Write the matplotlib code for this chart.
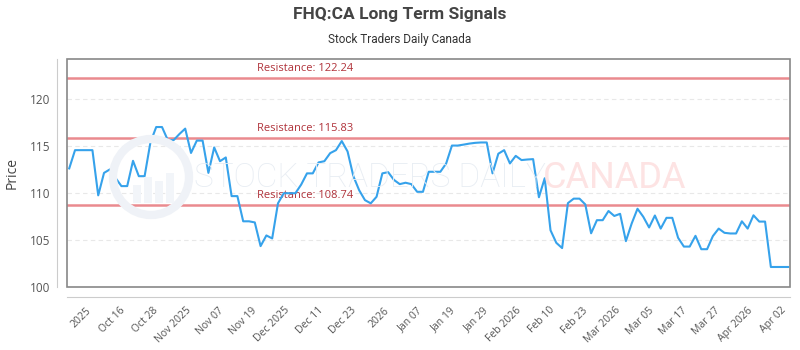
import numpy as np
import matplotlib
matplotlib.use("Agg")
import matplotlib.pyplot as plt
from matplotlib.patches import Ellipse, Rectangle

# closing prices, one per trading day
prices = [
    112.63, 114.58, 114.58, 114.58, 114.58, 109.75, 112.15, 112.52, 111.60, 110.74,
    110.74, 113.44, 111.80, 111.80, 115.40, 117.05, 117.05, 115.65, 115.65, 116.30,
    116.88, 114.28, 115.60, 115.60, 112.15, 114.87, 113.40, 113.80, 109.67, 109.67,
    106.98, 106.98, 106.86, 104.33, 105.47, 105.15, 108.90, 109.98, 109.98, 109.98,
    110.90, 112.10, 112.10, 113.27, 113.40, 114.26, 114.58, 115.55, 114.44, 111.80,
    110.30, 109.24, 108.90, 109.60, 112.10, 112.23, 111.40, 110.95, 111.10, 110.95,
    110.13, 110.13, 112.27, 112.27, 112.27, 113.15, 115.07, 115.07, 115.17, 115.28,
    115.36, 115.40, 115.40, 112.10, 114.20, 114.58, 113.16, 113.97, 113.52, 113.58,
    113.62, 109.55, 111.58, 106.02, 104.68, 104.12, 108.92, 109.40, 109.40, 108.78,
    105.70, 107.10, 107.10, 108.08, 107.55, 107.78, 104.86, 106.75, 108.32, 107.46,
    106.32, 107.60, 106.20, 107.35, 107.35, 105.22, 104.28, 104.28, 105.43, 104.00,
    104.00, 105.40, 106.20, 105.75, 105.68, 105.68, 106.98, 106.20, 107.62, 106.95,
    106.95, 102.10, 102.10, 102.10, 102.10,
]

resistance = [122.24, 115.83, 108.74]

tick_labels = ["2025", "Oct 16", "Oct 28", "Nov 2025", "Nov 07", "Nov 19",
               "Dec 2025", "Dec 11", "Dec 23", "2026", "Jan 07", "Jan 19",
               "Jan 29", "Feb 2026", "Feb 10", "Feb 23", "Mar 2026", "Mar 05",
               "Mar 17", "Mar 27", "Apr 2026", "Apr 02"]

plt.rcParams["font.family"] = ["Open Sans", "DejaVu Sans"]

fig = plt.figure(figsize=(8, 3.5), dpi=100)
ax = fig.add_axes([0.084, 0.181, 0.9035, 0.65])

x = np.arange(len(prices))

# faint watermark behind the plot
fig.patches.append(Ellipse((151 / 800, 1 - 177 / 350), 76 / 800, 76 / 350,
                           transform=fig.transFigure, fill=False,
                           edgecolor="#eff2f7", linewidth=6, zorder=0))
for bx, bh in [(133, 18), (144, 26), (155, 22), (166, 30)]:
    fig.patches.append(Rectangle((bx / 800, (350 - 203) / 350), 8 / 800, bh / 350,
                                 transform=fig.transFigure, facecolor="#f2f5f9",
                                 edgecolor="none", zorder=0))
fig.text(194 / 800, 1 - 178 / 350, "STOCK TRADERS DAILY", family="Roboto",
         fontweight="light", fontsize=24, color="#e8edf3", va="center", ha="left",
         zorder=0)
fig.text(543 / 800, 1 - 178 / 350, "CANADA", family="Roboto",
         fontsize=26, color="#fde3e3", va="center", ha="left", zorder=0)
ax.patch.set_alpha(0)

for lvl in [105, 110, 115, 120]:
    ax.axhline(lvl, color="#e8e8e8", linewidth=0.8, linestyle=(0, (4, 3)), zorder=1)

for r in resistance:
    ax.axhline(r, color="#ea8a8f", linewidth=1.8, zorder=2)
    ax.text(32.4, r + 0.45, f"Resistance: {r:.2f}", color="#b0323a",
            fontsize=8, ha="left", va="bottom", zorder=3)

ax.plot(x, prices, color="#36a2eb", linewidth=1.5, zorder=4)

for s in ax.spines.values():
    s.set_visible(False)
ax.spines["left"].set_visible(True)
ax.spines["left"].set_position(("outward", 7.2))
ax.spines["left"].set_color("#cccccc")
ax.spines["bottom"].set_visible(True)
ax.spines["bottom"].set_position(("outward", 7.2))
ax.spines["bottom"].set_color("#cccccc")
# plot frame
ax.add_patch(Rectangle((0, 0), 1, 1, transform=ax.transAxes, fill=False,
                       edgecolor="#888888", linewidth=1.2, zorder=5, clip_on=False))

ax.set_xlim(-0.35, len(prices) - 0.7)
ax.set_ylim(100, 124.3)
ax.set_yticks([100, 105, 110, 115, 120])
ax.set_xticks(np.linspace(2.9, 122.7, len(tick_labels)))
ax.set_xticklabels(tick_labels, rotation=45, ha="right", rotation_mode="anchor")
ax.tick_params(axis="x", length=0, pad=6, labelsize=7.5, labelcolor="#555555")
ax.tick_params(axis="y", length=0, pad=5, labelsize=8.5, labelcolor="#555555")

ax.set_ylabel("Price", fontsize=10, color="#444444", labelpad=7)

fig.text(0.5, 1 - 15 / 350, "FHQ:CA Long Term Signals", family="Roboto",
         fontsize=12.5, fontweight="bold", color="#444444", ha="center", va="center")
fig.text(0.5, 1 - 40 / 350, "Stock Traders Daily Canada", family="Roboto",
         fontsize=8.5, color="#333333", ha="center", va="center")

fig.savefig("out.png", dpi=100)
